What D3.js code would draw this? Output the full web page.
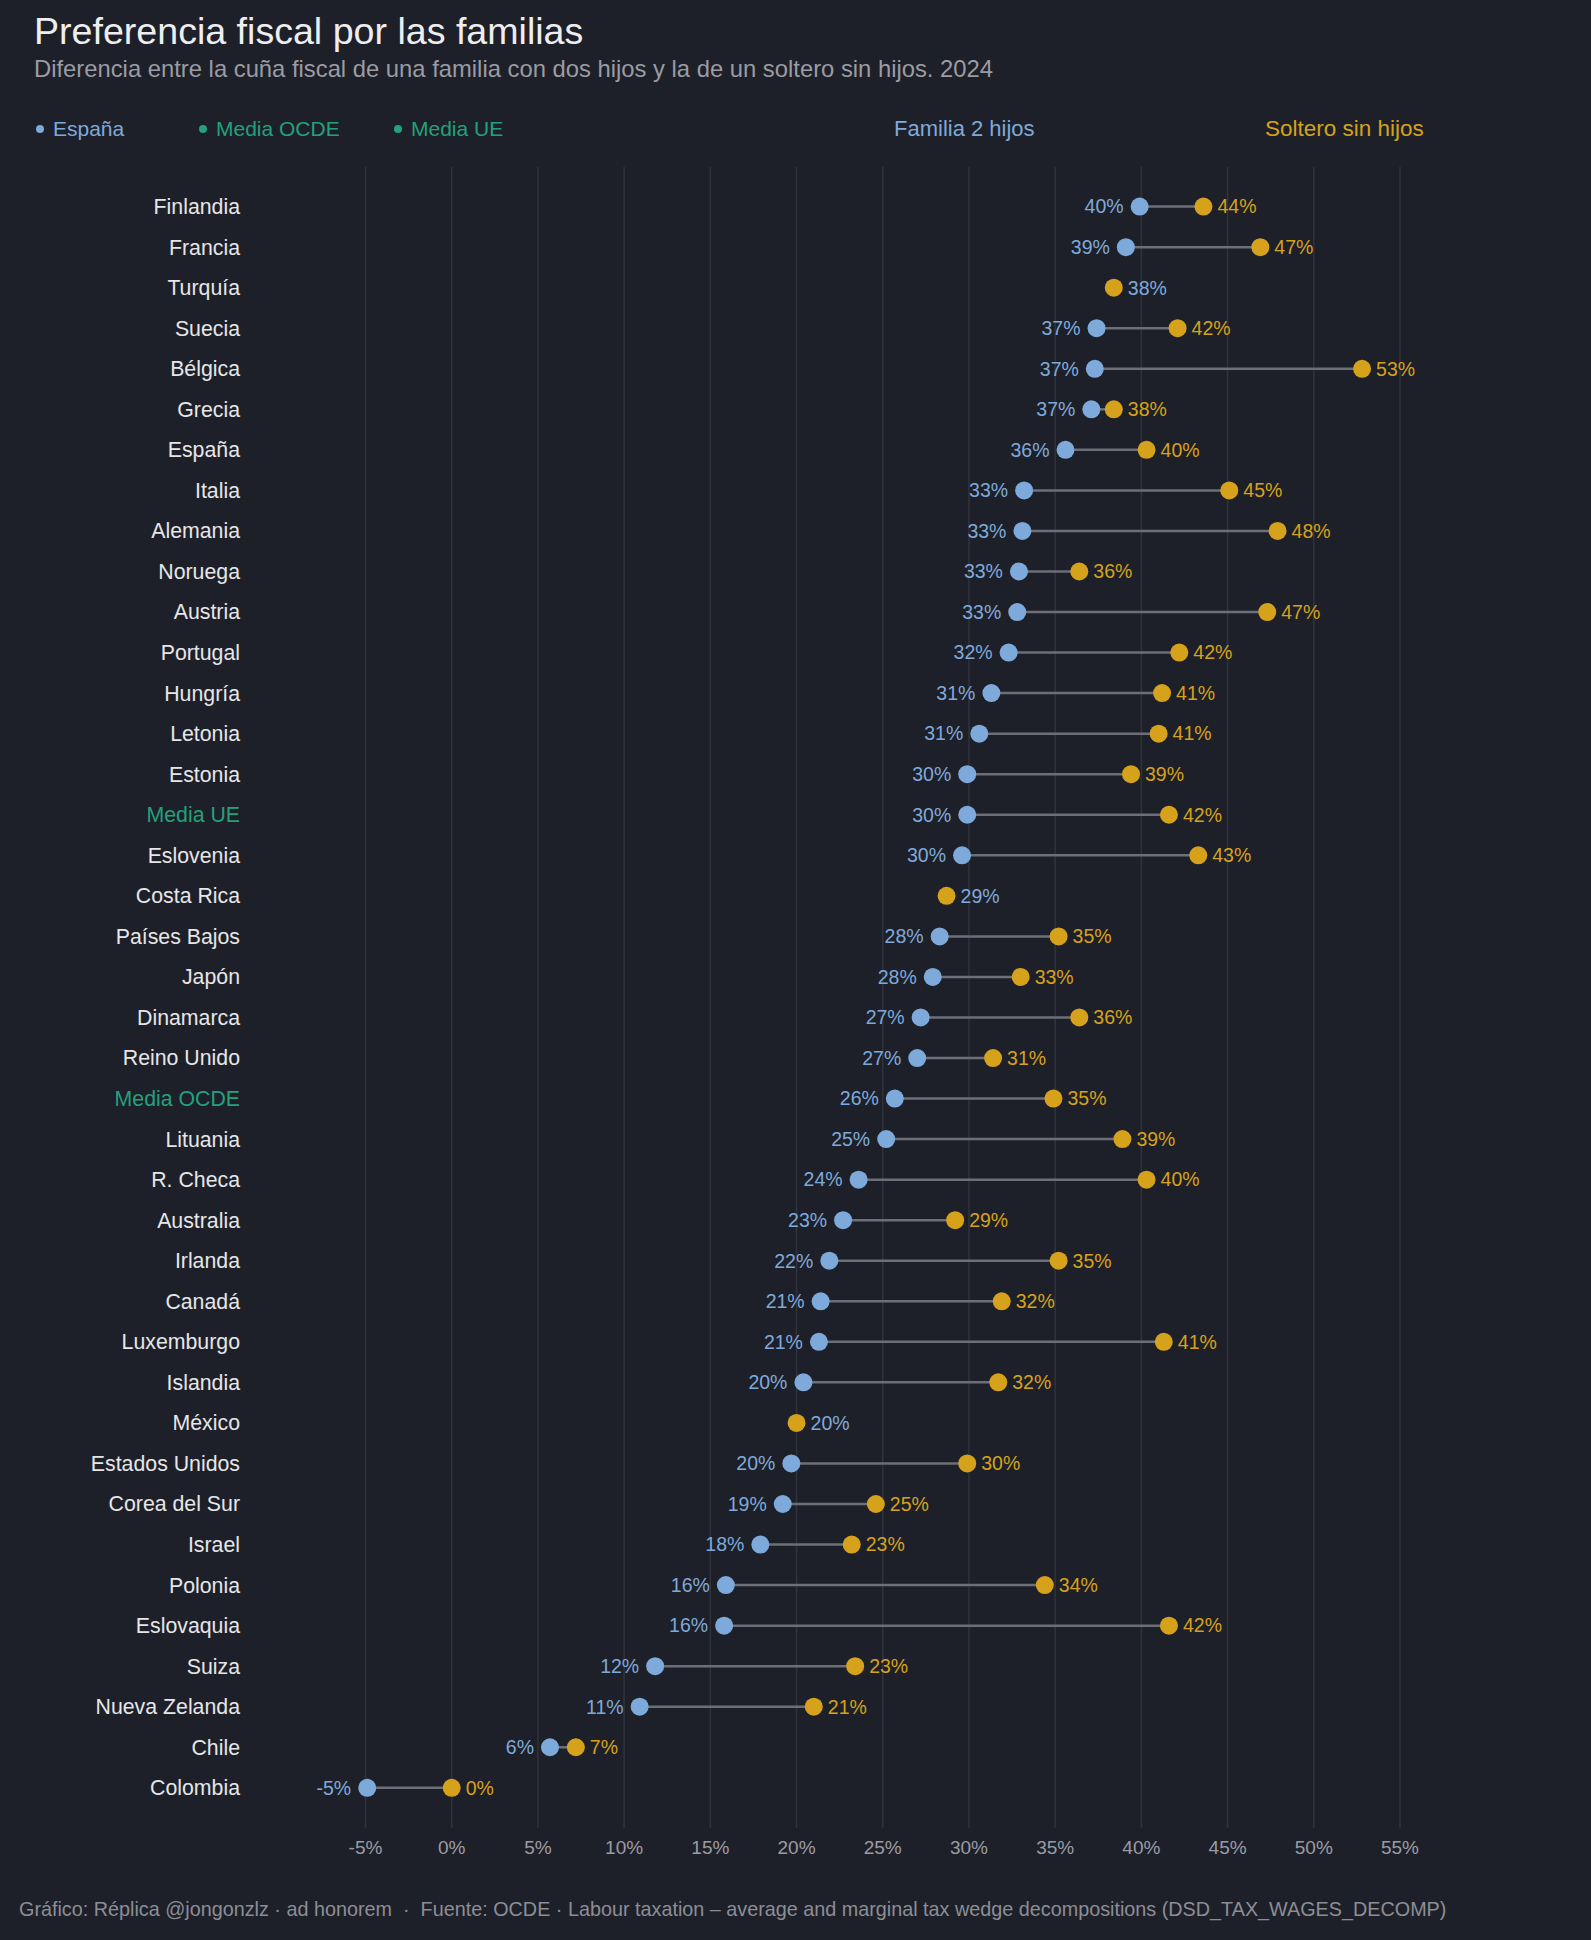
<!DOCTYPE html>
<html>
<head>
<meta charset="utf-8">
<script src="https://cdn.jsdelivr.net/npm/d3@7"></script>
<style>
  html, body { margin: 0; padding: 0; background: #1e2029; }
  svg { display: block; font-family: "Liberation Sans", Arial, Helvetica, sans-serif; }
</style>
</head>
<body>
<div id="chart"></div>
<script>
// paises ordenados como en el grafico (de arriba a abajo)
const paises = ["Finlandia","Francia","Turquía","Suecia","Bélgica","Grecia","España","Italia","Alemania","Noruega",
  "Austria","Portugal","Hungría","Letonia","Estonia","Media UE","Eslovenia","Costa Rica","Países Bajos","Japón",
  "Dinamarca","Reino Unido","Media OCDE","Lituania","R. Checa","Australia","Irlanda","Canadá","Luxemburgo","Islandia",
  "México","Estados Unidos","Corea del Sur","Israel","Polonia","Eslovaquia","Suiza","Nueva Zelanda","Chile","Colombia"]

// cuña fiscal familia con dos hijos (%)
const familia = [39.9,39.1,38.4,37.4,37.3,37.1,35.6,33.2,33.1,32.9,
  32.8,32.3,31.3,30.6,29.9,29.9,29.6,28.7,28.3,27.9,
  27.2,27.0,25.7,25.2,23.6,22.7,21.9,21.4,21.3,20.4,
  20.0,19.7,19.2,17.9,15.9,15.8,11.8,10.9,5.7,-4.9]

// cuña fiscal soltero sin hijos (%)
const soltero = [43.6,46.9,38.4,42.1,52.8,38.4,40.3,45.1,47.9,36.4,
  47.3,42.2,41.2,41.0,39.4,41.6,43.3,28.7,35.2,33.0,
  36.4,31.4,34.9,38.9,40.3,29.2,35.2,31.9,41.3,31.7,
  20.0,29.9,24.6,23.2,34.4,41.6,23.4,21.0,7.2,0.0]

const ticks = [-5,0,5,10,15,20,25,30,35,40,45,50,55]
const destacados = {"Media UE": "#23a07c", "Media OCDE": "#23a07c"}

const colFam = "#7eaadb"
const colSol = "#d6a21c"

const width = 1591, height = 1940

const data = paises.map((p, i) => ({pais: p, fam: familia[i], sol: soltero[i]}))

const svg = d3.select("#chart").append("svg")
  .attr("width", width).attr("height", height)

svg.append("rect").attr("width", width).attr("height", height).attr("fill", "#1e2029")

const x = d3.scaleLinear().domain([-5, 55]).range([365.5, 1400])
const y = d3.scalePoint().domain(paises).range([206.6, 1787.8])

// titulo
svg.append("text").attr("x", 34).attr("y", 44)
  .attr("font-size", 37.6).attr("fill", "#eeeef0")
  .text("Preferencia fiscal por las familias")
svg.append("text").attr("x", 34).attr("y", 77)
  .attr("font-size", 23.8).attr("fill", "#9a9ca4")
  .text("Diferencia entre la cuña fiscal de una familia con dos hijos y la de un soltero sin hijos. 2024")

// leyenda izquierda
const leyenda = [
  {t: "España", c: colFam, x: 35},
  {t: "Media OCDE", c: "#23a07c", x: 198},
  {t: "Media UE", c: "#23a07c", x: 393}
]
const lg = svg.append("g").selectAll("g").data(leyenda).join("g")
  .attr("transform", d => `translate(${d.x},136)`)
lg.append("circle").attr("cx", 5).attr("cy", -7).attr("r", 4).attr("fill", d => d.c)
lg.append("text").attr("x", 18).attr("font-size", 21).attr("fill", d => d.c).text(d => d.t)

svg.append("text").attr("x", 894).attr("y", 136).attr("font-size", 22).attr("fill", colFam).text("Familia 2 hijos")
svg.append("text").attr("x", 1265).attr("y", 136).attr("font-size", 22.5).attr("fill", colSol).text("Soltero sin hijos")

// rejilla
svg.append("g").selectAll("line").data(ticks).join("line")
  .attr("x1", d => x(d)).attr("x2", d => x(d))
  .attr("y1", 167).attr("y2", 1828)
  .attr("stroke", "#30323d").attr("stroke-width", 1.5)

svg.append("g").selectAll("text").data(ticks).join("text")
  .attr("x", d => x(d)).attr("y", 1854)
  .attr("text-anchor", "middle").attr("font-size", 19).attr("fill", "#9a9ca4")
  .text(d => d + "%")

// etiquetas de pais
svg.append("g").selectAll("text").data(data).join("text")
  .attr("x", 240).attr("y", d => y(d.pais)).attr("dy", "0.35em")
  .attr("text-anchor", "end").attr("font-size", 21.3)
  .attr("fill", d => destacados[d.pais] || "#e6e6e8")
  .text(d => d.pais)

const fila = svg.append("g").selectAll("g").data(data).join("g")
  .attr("transform", d => `translate(0,${y(d.pais)})`)

fila.append("line")
  .attr("x1", d => x(d.fam)).attr("x2", d => x(d.sol))
  .attr("stroke", "#6c6f77").attr("stroke-width", 2.5)

fila.filter(d => d.fam !== d.sol).append("circle")
  .attr("cx", d => x(d.fam)).attr("r", 9).attr("fill", colFam)
fila.append("circle")
  .attr("cx", d => x(d.sol)).attr("r", 9).attr("fill", colSol)

const fmt = v => Math.round(v) + "%"

// etiqueta familia (a la izquierda), o a la derecha si coinciden
fila.append("text")
  .attr("x", d => d.fam !== d.sol ? x(d.fam) - 16 : x(d.sol) + 14)
  .attr("dy", "0.35em")
  .attr("text-anchor", d => d.fam !== d.sol ? "end" : "start")
  .attr("font-size", 19.5).attr("fill", colFam)
  .text(d => fmt(d.fam))

fila.filter(d => d.fam !== d.sol).append("text")
  .attr("x", d => x(d.sol) + 14).attr("dy", "0.35em")
  .attr("font-size", 19.5).attr("fill", colSol)
  .text(d => fmt(d.sol))

// pie
svg.append("text").attr("x", 19).attr("y", 1916)
  .attr("font-size", 19.8).attr("fill", "#8c8e96")
  .style("white-space", "pre")
  .text("Gráfico: Réplica @jongonzlz · ad honorem  ·  Fuente: OCDE · Labour taxation – average and marginal tax wedge decompositions (DSD_TAX_WAGES_DECOMP)")
</script>
</body>
</html>
